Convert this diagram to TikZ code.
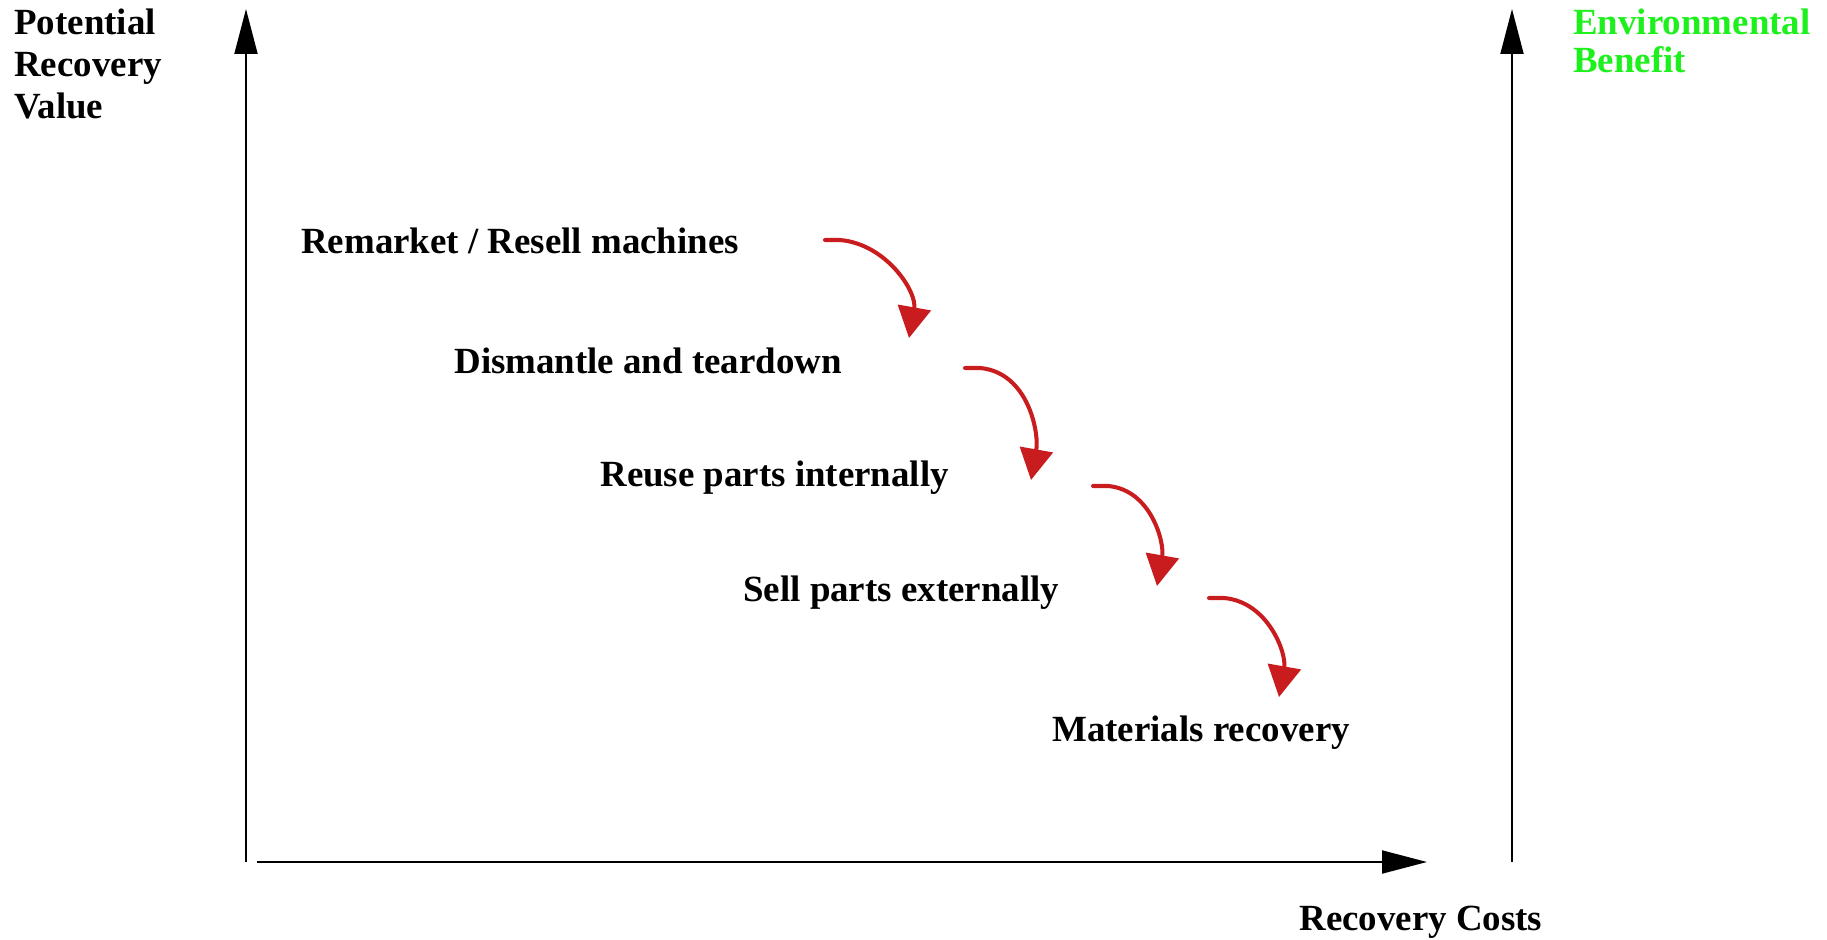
\documentclass[tikz,border=0pt]{standalone}
\usepackage{fontspec}
\setmainfont{Liberation Serif}
\usetikzlibrary{arrows.meta}

\definecolor{redarr}{RGB}{200,28,30}
\definecolor{greenlab}{RGB}{30,240,30}

\tikzset{
    axis/.style = {line width=1.1pt, -{Triangle[length=0.9cm,width=0.46cm]}},
    flow/.style = {redarr, line width=2.3pt, line cap=round, -{Triangle[length=0.62cm,width=0.66cm]}},
    lab/.style  = {inner sep=0pt, font=\fontsize{21}{23.8}\selectfont\bfseries}
}

\begin{document}
\begin{tikzpicture}
            \useasboundingbox (0,0) rectangle (36.54,18.78);
            % axes
            \coordinate (orig) at (4.92,1.54);
            \coordinate (ytop) at (4.92,18.6);
            \coordinate (xstart) at (5.14,1.54);
            \coordinate (xend) at (28.54,1.54);
            \coordinate (ebot) at (30.24,1.54);
            \coordinate (etop) at (30.24,18.6);
            \draw[axis] (orig) -- (ytop);
            \draw[axis] (xstart) -- (xend);
            \draw[axis] (ebot) -- (etop);
            % axis labels
            \node[lab, anchor=north west, align=left] (value) at (0.28,18.6) {Potential\\Recovery\\Value};
            \node[lab, anchor=north west, align=left, greenlab, font=\fontsize{21}{21.6}\selectfont\bfseries] (benefit) at (31.46,18.6) {Environmental\\Benefit};
            \node[lab, anchor=base west] (costs) at (25.98,0.17) {Recovery Costs};
            % options
            \node[lab, anchor=base west] (resell) at (6.02,13.71) {Remarket / Resell machines};
            \node[lab, anchor=base west] (dismantle) at (9.08,11.31) {Dismantle and teardown};
            \node[lab, anchor=base west] (reuse) at (12.0,9.05) {Reuse parts internally};
            \node[lab, anchor=base west] (sell) at (14.86,6.76) {Sell parts externally};
            \node[lab, anchor=base west] (material) at (21.04,3.96) {Materials recovery};
            % red arrows
            \foreach \i/\sx/\sy/\tx/\ty in {1/16.5/13.98/18.18/12.02, 2/19.3/11.42/20.62/9.18, 3/21.86/9.06/23.14/7.06, 4/24.18/6.82/25.58/4.84}
                {\coordinate (s\i) at (\sx,\sy);
                 \coordinate (t\i) at (\tx,\ty);
                 \draw[flow] (s\i) -- ++(0.3,0) to[out=-5,in=80] (t\i);}
\end{tikzpicture}
\end{document}
